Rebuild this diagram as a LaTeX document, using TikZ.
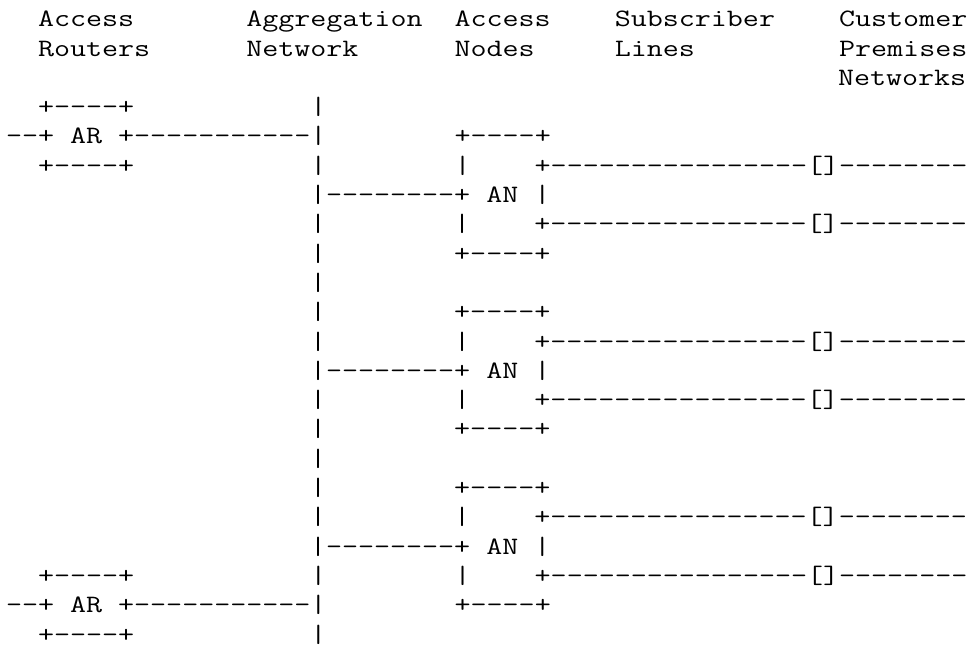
\documentclass[tikz,border=0pt]{standalone}
\usepackage{fontspec}
\usepackage{graphicx}
\frenchspacing
\newcommand{\asciitxt}[1]{{\def~{\phantom{-}}\scalebox{1.2445}[1]{#1}}}
\tikzset{
  asciirow/.style={anchor=base west, inner sep=0pt, outer sep=0pt,
    font=\ttfamily\fontsize{25}{29.3}\selectfont, text=black}
}
\begin{document}
\begin{tikzpicture}[x=1pt,y=1pt]
\fill[white] (0,0) rectangle (967,-648);
\useasboundingbox (0,0) rectangle (967,-648);
% row n baseline at 26.7 + (n-1)*29.3 ; column c at 6 + 16 c
\node[asciirow] (l1) at (38,-26.7) {\asciitxt{Access~~~~~~~Aggregation~~Access~~~~Subscriber~~~~Customer}};
\node[asciirow] (l2) at (38,-56.0) {\asciitxt{Routers~~~~~~Network~~~~~~Nodes~~~~~Lines~~~~~~~~~Premises}};
\node[asciirow] (l3) at (838,-85.3) {\asciitxt{Networks}};
\node[asciirow] (l4) at (38,-114.6) {\asciitxt{+----+~~~~~~~~~~~|}};
\node[asciirow] (l5) at (6,-143.9) {\asciitxt{--+~AR~+-----------|~~~~~~~~+----+}};
\node[asciirow] (l6) at (38,-173.2) {\asciitxt{+----+~~~~~~~~~~~|~~~~~~~~|~~~~+----------------[]--------}};
\node[asciirow] (l7) at (310,-202.5) {\asciitxt{|--------+~AN~|}};
\node[asciirow] (l8) at (310,-231.8) {\asciitxt{|~~~~~~~~|~~~~+----------------[]--------}};
\node[asciirow] (l9) at (310,-261.1) {\asciitxt{|~~~~~~~~+----+}};
\node[asciirow] (l10) at (310,-290.4) {\asciitxt{|}};
\node[asciirow] (l11) at (310,-319.7) {\asciitxt{|~~~~~~~~+----+}};
\node[asciirow] (l12) at (310,-349.0) {\asciitxt{|~~~~~~~~|~~~~+----------------[]--------}};
\node[asciirow] (l13) at (310,-378.3) {\asciitxt{|--------+~AN~|}};
\node[asciirow] (l14) at (310,-407.6) {\asciitxt{|~~~~~~~~|~~~~+----------------[]--------}};
\node[asciirow] (l15) at (310,-436.9) {\asciitxt{|~~~~~~~~+----+}};
\node[asciirow] (l16) at (310,-466.2) {\asciitxt{|}};
\node[asciirow] (l17) at (310,-495.5) {\asciitxt{|~~~~~~~~+----+}};
\node[asciirow] (l18) at (310,-524.8) {\asciitxt{|~~~~~~~~|~~~~+----------------[]--------}};
\node[asciirow] (l19) at (310,-554.1) {\asciitxt{|--------+~AN~|}};
\node[asciirow] (l20) at (38,-583.4) {\asciitxt{+----+~~~~~~~~~~~|~~~~~~~~|~~~~+----------------[]--------}};
\node[asciirow] (l21) at (6,-612.7) {\asciitxt{--+~AR~+-----------|~~~~~~~~+----+}};
\node[asciirow] (l22) at (38,-642.0) {\asciitxt{+----+~~~~~~~~~~~|}};
\end{tikzpicture}
\end{document}
